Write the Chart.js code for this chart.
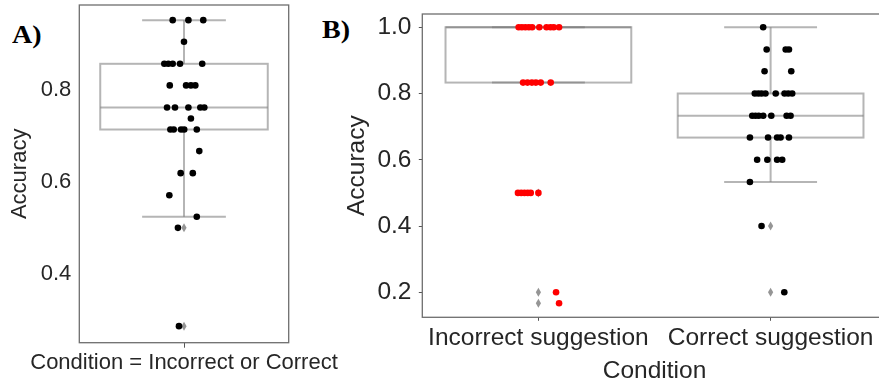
<!DOCTYPE html>
<html>
<head>
<meta charset="utf-8">
<script src="https://cdn.jsdelivr.net/npm/chart.js@4/dist/chart.umd.min.js"></script>
<style>
  html, body { margin: 0; padding: 0; background: #fff; overflow: hidden; width: 879px; height: 383px; }
  canvas { position: absolute; top: 0; }
  .tag { position: absolute; font: bold 25px "Liberation Serif", serif; line-height: 25px; color: #000;
         transform: scaleX(1.12); transform-origin: left top; }
</style>
</head>
<body>
<div class="tag" style="left:12px; top:22px;">A)</div>
<div class="tag" style="left:322px; top:17px;">B)</div>
<canvas id="chartA" width="360" height="383" style="left:0"></canvas>
<canvas id="chartB" width="560" height="390" style="left:330px"></canvas>
<script>
// panel A: all participants, one condition
const titleA = 'Condition = Incorrect or Correct';
const yTicksA = [0.4, 0.6, 0.8];
const accA = [0.952, 0.952, 0.952, 0.905, 0.857, 0.857, 0.857, 0.857, 0.857,
  0.810, 0.810, 0.810, 0.810, 0.762, 0.762, 0.762, 0.762, 0.762, 0.738,
  0.714, 0.714, 0.714, 0.714, 0.714, 0.667, 0.619, 0.619, 0.571, 0.524, 0.5, 0.286];
const jitA = [-0.054, 0.021, 0.092, 0.0, -0.094, -0.075, -0.054, -0.019, 0.087,
  -0.068, 0.010, 0.033, 0.054, -0.081, -0.043, 0.021, 0.078, 0.097, 0.033,
  -0.065, -0.049, -0.014, 0.001, 0.061, 0.073, -0.016, 0.042, -0.070, 0.061, -0.029, -0.024];
// whisker low, q1, median, q3, whisker high
const boxA = [[0.524, 0.714, 0.762, 0.857, 0.952]];
const outA = [[0.5, 0.286]];

// panel B: split by suggestion type
const catsB = ['Incorrect suggestion', 'Correct suggestion'];
const yTicksB = [0.2, 0.4, 0.6, 0.8, 1.0];
const accInc = [1, 1, 1, 1, 1, 1, 1, 1, 1, 1,
  0.833, 0.833, 0.833, 0.833, 0.833, 0.833,
  0.5, 0.5, 0.5, 0.5, 0.5, 0.5, 0.2, 0.167];
const jitInc = [-0.085, -0.071, -0.056, -0.041, -0.027, 0.004, 0.035, 0.052, 0.066, 0.089,
  -0.066, -0.047, -0.028, -0.011, 0.010, 0.053,
  -0.088, -0.074, -0.060, -0.046, -0.033, 0.0, 0.076, 0.089];
const accCor = [1.0, 0.933, 0.933, 0.933, 0.867, 0.867,
  0.8, 0.8, 0.8, 0.8, 0.8, 0.8, 0.8, 0.8,
  0.733, 0.733, 0.733, 0.733, 0.733, 0.733, 0.733,
  0.667, 0.667, 0.667, 0.667, 0.667, 0.6, 0.6, 0.6, 0.6, 0.533, 0.4, 0.2];
const jitCor = [-0.032, -0.017, 0.065, 0.079, -0.026, 0.089,
  -0.068, -0.053, -0.039, -0.022, 0.022, 0.060, 0.076, 0.093,
  -0.079, -0.065, -0.051, -0.032, 0.003, 0.069, 0.086,
  -0.089, -0.011, 0.028, 0.043, 0.079, -0.058, -0.014, 0.028, 0.050, -0.089, -0.039, 0.059];
const boxB = [[0.833, 0.833, 1.0, 1.0, 1.0], [0.533, 0.667, 0.733, 0.8, 1.0]];
const outB = [[0.5, 0.2, 0.167], [0.4, 0.2]];

const textColor = '#262626';
const boxColor = 'rgba(120,120,120,0.55)';
const fontFam = '"Liberation Sans", Arial, sans-serif';

function pts(acc, jit, cat) {
  return acc.map((v, i) => ({ x: cat + jit[i], y: v }));
}

const boxPlugin = {
  id: 'boxes',
  beforeDatasetsDraw(chart, args, opts) {
    const { ctx, chartArea: a, scales: { x, y } } = chart;
    ctx.save();
    // frame
    ctx.strokeStyle = '#6e6e6e';
    ctx.lineWidth = 1.3;
    ctx.strokeRect(a.left, a.top, a.right - a.left, a.bottom - a.top);
    ctx.lineWidth = 2;
    ctx.strokeStyle = boxColor;
    const seg = (x1, y1, x2, y2) => {
      ctx.beginPath(); ctx.moveTo(x1, y1); ctx.lineTo(x2, y2); ctx.stroke();
    };
    opts.stats.forEach((s, i) => {
      const cx = x.getPixelForValue(i);
      const hw = x.getPixelForValue(i + 0.4) - cx;
      const [lo, q1, med, q3, hi] = s.map(v => y.getPixelForValue(v));
      if (lo !== q1) seg(cx, q1, cx, lo);
      if (hi !== q3) seg(cx, q3, cx, hi);
      seg(cx - hw / 2, lo, cx + hw / 2, lo);
      seg(cx - hw / 2, hi, cx + hw / 2, hi);
      ctx.strokeRect(cx - hw, q3, hw * 2, q1 - q3);
      seg(cx - hw, med, cx + hw, med);
    });
    ctx.fillStyle = 'rgba(130,130,130,0.85)';
    opts.outliers.forEach((list, i) => {
      const cx = x.getPixelForValue(i);
      list.forEach(v => {
        const py = y.getPixelForValue(v);
        ctx.beginPath();
        ctx.moveTo(cx, py - 4.5); ctx.lineTo(cx + 2.6, py);
        ctx.lineTo(cx, py + 4.5); ctx.lineTo(cx - 2.6, py);
        ctx.closePath(); ctx.fill();
      });
    });
    ctx.restore();
  },
  afterDraw(chart, args, opts) {
    if (!opts.xTitle) return;
    const { ctx, chartArea: a } = chart;
    ctx.save();
    ctx.fillStyle = textColor;
    ctx.font = '22px ' + fontFam;
    ctx.textAlign = 'center';
    ctx.textBaseline = 'middle';
    ctx.fillText(opts.xTitle, (a.left + a.right) / 2, a.bottom + 20);
    ctx.restore();
  }
};

const dot = (data, color) => ({
  type: 'scatter', data, backgroundColor: color, borderWidth: 0,
  pointRadius: 3.3, pointHoverRadius: 3.3
});

const noPad = s => { s.paddingTop = 0; s.paddingBottom = 0; s.paddingLeft = 0; s.paddingRight = 0; };

new Chart(document.getElementById('chartA'), {
  type: 'scatter',
  data: { datasets: [dot(pts(accA, jitA, 0), '#000')] },
  options: {
    responsive: false, animation: false, devicePixelRatio: 1,
    layout: { padding: { left: 0, top: 5, right: 71.3, bottom: 0 } },
    plugins: {
      legend: { display: false }, tooltip: { enabled: false },
      boxes: { stats: boxA, outliers: outA, xTitle: titleA }
    },
    scales: {
      x: {
        min: -0.5, max: 0.5,
        afterFit: s => { s.height = 40.3; noPad(s); },
        afterBuildTicks: s => { s.ticks = [{ value: 0 }]; },
        ticks: { callback: () => '', maxRotation: 0, autoSkip: false },
        grid: { drawOnChartArea: false, drawTicks: true, tickLength: 5, color: '#555', tickWidth: 1 },
        border: { display: false }
      },
      y: {
        min: 0.25, max: 0.985,
        afterFit: s => { s.width = 79.3; noPad(s); },
        afterBuildTicks: s => { s.ticks = yTicksA.map(v => ({ value: v })); },
        ticks: {
          color: textColor, padding: 8,
          font: { family: fontFam, size: 22 },
          callback: v => v.toFixed(1)
        },
        grid: { drawOnChartArea: false, drawTicks: false },
        border: { display: false },
        title: {
          display: true, text: 'Accuracy', color: textColor,
          font: { family: fontFam, size: 22 },
          padding: { top: 6.8, bottom: 0 }
        }
      }
    }
  },
  plugins: [boxPlugin]
});

new Chart(document.getElementById('chartB'), {
  type: 'scatter',
  data: {
    datasets: [
      dot(pts(accInc, jitInc, 0), '#ff0000'),
      dot(pts(accCor, jitCor, 1), '#000')
    ]
  },
  options: {
    responsive: false, animation: false, devicePixelRatio: 1,
    layout: { padding: { left: 0, top: 14, right: 2.3, bottom: 0 } },
    plugins: {
      legend: { display: false }, tooltip: { enabled: false },
      boxes: { stats: boxB, outliers: outB }
    },
    scales: {
      x: {
        min: -0.5, max: 1.5,
        afterFit: s => { s.height = 72.7; noPad(s); },
        afterBuildTicks: s => { s.ticks = catsB.map((c, i) => ({ value: i })); },
        ticks: {
          color: textColor, padding: 3, maxRotation: 0, minRotation: 0, autoSkip: false,
          font: { family: fontFam, size: 24.5 },
          callback: (v, i) => catsB[i]
        },
        grid: { drawOnChartArea: false, drawTicks: true, tickLength: 3.5, color: '#555', tickWidth: 1 },
        border: { display: false },
        title: {
          display: true, text: 'Condition', color: textColor,
          font: { family: fontFam, size: 24.5 },
          padding: { top: 0, bottom: 4 }
        }
      },
      y: {
        min: 0.1245, max: 1.04,
        afterFit: s => { s.width = 92.3; noPad(s); },
        afterBuildTicks: s => { s.ticks = yTicksB.map(v => ({ value: v })); },
        ticks: {
          color: textColor, padding: 7.3,
          font: { family: fontFam, size: 24.5 },
          callback: v => v.toFixed(1)
        },
        grid: { drawOnChartArea: false, drawTicks: true, tickLength: 3.5, color: '#555', tickWidth: 1 },
        border: { display: false },
        title: {
          display: true, text: 'Accuracy', color: textColor,
          font: { family: fontFam, size: 24.5 },
          padding: { top: 12.8, bottom: 0 }
        }
      }
    }
  },
  plugins: [boxPlugin]
});
</script>
</body>
</html>
